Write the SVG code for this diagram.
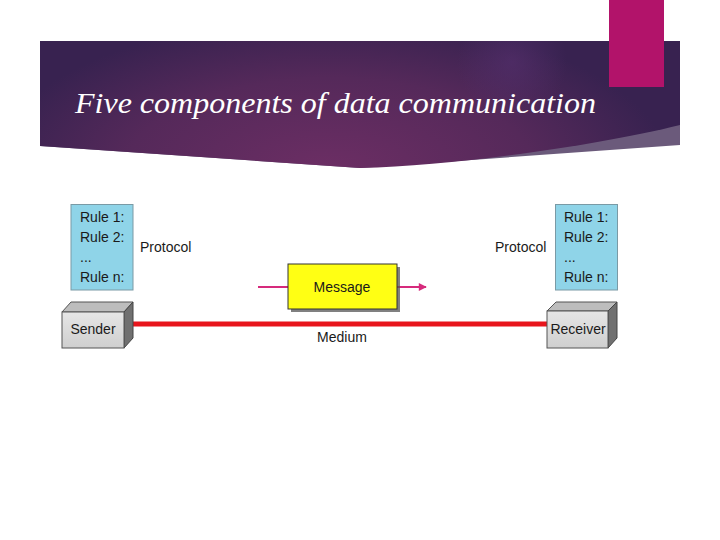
<svg xmlns="http://www.w3.org/2000/svg" width="720" height="540" viewBox="0 0 720 540">
<defs>
<radialGradient id="bg" cx="330" cy="170" r="340" gradientUnits="userSpaceOnUse" gradientTransform="translate(330 170) scale(1 0.45) translate(-330 -170)">
<stop offset="0" stop-color="#6C2E64"/>
<stop offset="0.6" stop-color="#55295A"/>
<stop offset="1" stop-color="#382250"/>
</radialGradient>
<radialGradient id="glow" cx="512" cy="62" r="55" gradientUnits="userSpaceOnUse">
<stop offset="0" stop-color="#56306F" stop-opacity="0.6"/>
<stop offset="1" stop-color="#56306F" stop-opacity="0"/>
</radialGradient>
<linearGradient id="box3d" x1="0" y1="0" x2="0" y2="1">
<stop offset="0" stop-color="#E6E6E6"/>
<stop offset="1" stop-color="#CFCFCF"/>
</linearGradient>
<marker id="arr" viewBox="0 0 10 10" refX="9" refY="5" markerWidth="10" markerHeight="8" markerUnits="userSpaceOnUse" orient="auto">
<path d="M0,0 L10,5 L0,10 z" fill="#D62A7C"/>
</marker>
<style>
.t{font-family:"Liberation Sans",Arial,sans-serif;font-size:14px;fill:#1a1a1a}
.rule{fill:#8FD4E8;stroke:#7A9AA5;stroke-width:1}
.front{fill:url(#box3d);stroke:#555;stroke-width:1}
.top{fill:#BDBDBD;stroke:#555;stroke-width:1}
.side{fill:#707070;stroke:#444;stroke-width:1}
</style>
</defs>
<rect width="720" height="540" fill="#FFFFFF"/>
<g id="banner">
<path d="M40,41 H680 V145 L360,168 L40,146 Z" fill="#6B5A7B"/>
<path d="M40,41 H680 V125 C600,145 460,165 360,168 L40,146 Z" fill="url(#bg)"/>
<path d="M40,41 H680 V125 C600,145 460,165 360,168 L40,146 Z" fill="url(#glow)"/>
<rect x="609" y="0" width="55" height="87" fill="#B2136A"/>
<text x="75" y="113" font-family="'Liberation Serif','Times New Roman',serif" font-style="italic" font-size="30" fill="#FFFFFF" textLength="521" lengthAdjust="spacingAndGlyphs">Five components of data communication</text>
</g>
<g id="connectors">
<line x1="125" y1="324" x2="547" y2="324" stroke="#E8151C" stroke-width="5"/>
<line x1="258" y1="287" x2="289" y2="287" stroke="#D62A7C" stroke-width="2"/>
<line x1="397" y1="287" x2="426" y2="287" stroke="#D62A7C" stroke-width="2" marker-end="url(#arr)"/>
<text class="t" x="342" y="342" text-anchor="middle">Medium</text>
</g>
<g id="protocol-left">
<rect class="rule" x="71" y="204.5" width="62" height="85.5"/>
<text class="t" x="80" y="222">Rule 1:</text>
<text class="t" x="80" y="242">Rule 2:</text>
<text class="t" x="80" y="262">...</text>
<text class="t" x="80" y="282">Rule n:</text>
<text class="t" x="140" y="252">Protocol</text>
</g>
<g id="protocol-right">
<rect class="rule" x="555.5" y="204.5" width="62" height="85.5"/>
<text class="t" x="564" y="222">Rule 1:</text>
<text class="t" x="564" y="242">Rule 2:</text>
<text class="t" x="564" y="262">...</text>
<text class="t" x="564" y="282">Rule n:</text>
<text class="t" x="495" y="252">Protocol</text>
</g>
<g id="sender">
<path class="top" d="M62,312 L71,302 L133,302 L124,312 Z"/>
<path class="side" d="M124,312 L133,302 L133,338 L124,348 Z"/>
<rect class="front" x="62" y="312" width="62" height="36"/>
<text class="t" x="93" y="334" text-anchor="middle">Sender</text>
</g>
<g id="receiver">
<path class="top" d="M547,311 L556,302 L617,302 L608,311 Z"/>
<path class="side" d="M608,311 L617,302 L617,338 L608,348 Z"/>
<rect class="front" x="547" y="311" width="61" height="37"/>
<text class="t" x="578" y="334" text-anchor="middle">Receiver</text>
</g>
<g id="message">
<rect x="291" y="267" width="109" height="45" fill="#555" opacity="0.75"/>
<rect x="288" y="264" width="109" height="45" fill="#FFFF14" stroke="#333" stroke-width="1"/>
<text class="t" x="342" y="292" text-anchor="middle">Message</text>
</g>
</svg>
